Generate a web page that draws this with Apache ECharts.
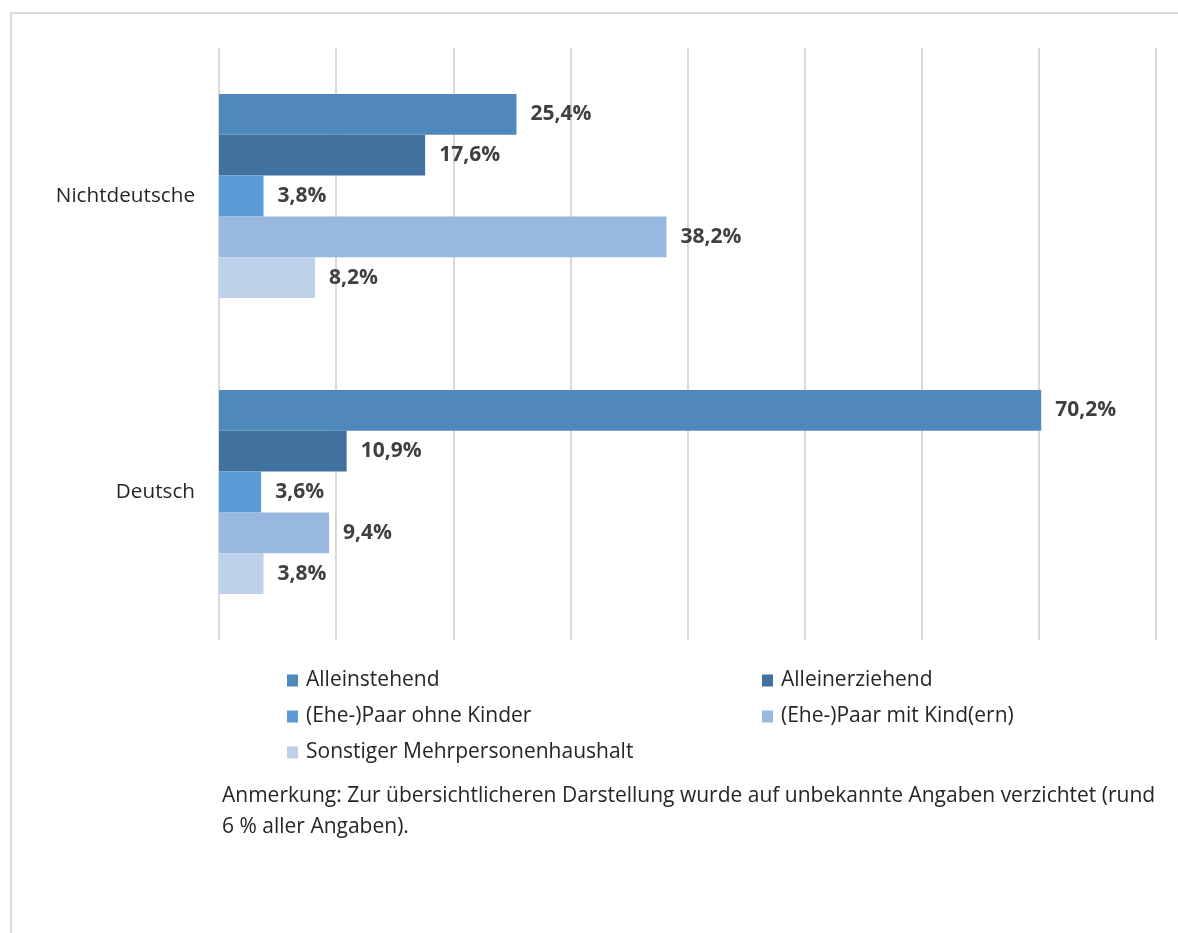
<!DOCTYPE html>
<html>
<head>
<meta charset="utf-8">
<script src="https://cdn.jsdelivr.net/npm/echarts@6/dist/echarts.min.js"></script>
<style>
html,body{margin:0;padding:0;background:#fff;}
#frame{position:absolute;left:10px;top:12px;width:1200px;height:960px;border:2px solid #d9d9d9;box-sizing:border-box;}
#chart{position:absolute;left:0;top:0;width:1178px;height:933px;}
</style>
</head>
<body>
<div id="frame"></div>
<div id="chart"></div>
<script>
const categories = ['Nichtdeutsche', 'Deutsch'];
const seriesNames = ['Alleinstehend', 'Alleinerziehend', '(Ehe-)Paar ohne Kinder', '(Ehe-)Paar mit Kind(ern)', 'Sonstiger Mehrpersonenhaushalt'];
const alleinstehend = [25.4, 70.2];
const alleinerziehend = [17.6, 10.9];
const paarOhneKinder = [3.8, 3.6];
const paarMitKindern = [38.2, 9.4];
const sonstiger = [8.2, 3.8];
const seriesValues = [alleinstehend, alleinerziehend, paarOhneKinder, paarMitKindern, sonstiger];
const colors = ['#4f89bc', '#41729f', '#5a9ad6', '#98b8df', '#bed1ea'];
const note = 'Anmerkung: Zur übersichtlicheren Darstellung wurde auf unbekannte Angaben verzichtet (rund\n6 % aller Angaben).';

const chart = echarts.init(document.getElementById('chart'));
const fontFam = '"Open Sans", sans-serif';
const legendText = {color: '#262626', fontSize: 21, fontFamily: fontFam, padding: [0, 0, 0, 3]};
chart.setOption({
  animation: false,
  color: colors,
  grid: {left: 219, right: 22, top: 48, bottom: 293, containLabel: false},
  xAxis: {
    type: 'value', min: 0, max: 80, interval: 10,
    axisLabel: {show: false}, axisLine: {show: false}, axisTick: {show: false},
    splitLine: {show: true, lineStyle: {color: '#d9d9d9', width: 2}}
  },
  yAxis: {
    type: 'category', data: categories, inverse: true,
    axisLine: {show: false}, axisTick: {show: false},
    axisLabel: {color: '#262626', fontSize: 20.7, fontFamily: fontFam, margin: 24}
  },
  legend: [
    {
      data: [seriesNames[0], seriesNames[2], seriesNames[4]],
      orient: 'vertical', left: 282, top: 665, itemGap: 15,
      itemWidth: 11, itemHeight: 12, icon: 'rect',
      textStyle: legendText
    },
    {
      data: [seriesNames[1], seriesNames[3]],
      orient: 'vertical', left: 757, top: 665, itemGap: 15,
      itemWidth: 11, itemHeight: 12, icon: 'rect',
      textStyle: legendText
    }
  ],
  graphic: [{
    type: 'text', left: 222, top: 781,
    style: {text: note, fill: '#262626', fontSize: 21, fontFamily: fontFam, lineHeight: 31}
  }],
  series: seriesNames.map((name, i) => ({
    name: name, type: 'bar', data: seriesValues[i],
    barGap: '0%', barCategoryGap: '31%',
    label: {
      show: true, position: 'right', distance: 14,
      color: '#404040', fontSize: 21, fontWeight: 'bold', fontFamily: fontFam,
      formatter: p => p.value.toFixed(1).replace('.', ',') + '%'
    }
  }))
});
</script>
</body>
</html>
